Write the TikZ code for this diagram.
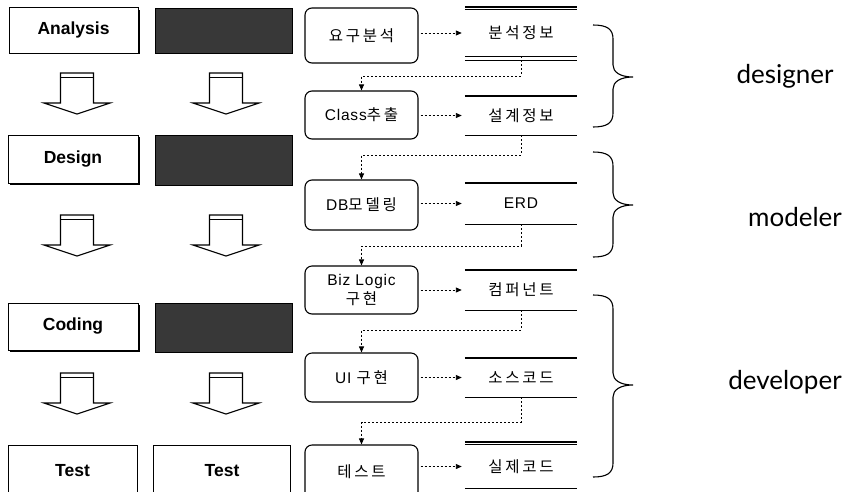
\documentclass[tikz,border=0pt]{standalone}
\usepackage{fontspec}
\setmainfont{Liberation Sans}
\newfontfamily\kofont[LetterSpace=18]{Noto Sans CJK KR}
\newfontfamily\latfont[LetterSpace=5]{Liberation Sans}
\newfontfamily\rolefont{Lato}
\newcommand{\ko}[1]{{\kofont\fontsize{15.5}{18}\selectfont #1}}
\usetikzlibrary{arrows.meta,calc}
\tikzset{
  phasebox/.style={draw=black, line width=0.9pt, fill=white, minimum width=129pt, minimum height=46pt, inner sep=0pt, font=\fontsize{17.5}{19}\selectfont\bfseries},
  darkbox/.style={draw=black, line width=0.9pt, fill=black!78, minimum width=137pt, minimum height=46pt, inner sep=0pt},
  procbox/.style={draw=black, line width=1.1pt, rounded corners=7pt, fill=white, minimum width=113pt, inner sep=0pt, align=center, font=\latfont\fontsize{15.5}{19}\selectfont},
  store/.style={minimum width=112pt, inner sep=0pt, font=\latfont\fontsize{15.5}{17}\selectfont},
  storeline/.style={line width=1.4pt},
  thinline/.style={line width=0.7pt},
  flow/.style={line width=0.9pt, dash pattern=on 2pt off 2pt, -{Triangle[length=6pt,width=5pt]}},
  blockarrow/.style={draw=black, line width=1.1pt, fill=white, line join=miter},
  bracestyle/.style={line width=1.1pt},
  rolelabel/.style={font=\rolefont\fontsize{26}{28}\selectfont, inner sep=0pt}
}
\newcommand{\shadowbox}[4]{% x1,y1,x2,y2
  \fill[black] ({#1+1.5},{#2+1.5}) rectangle ({#3+1.5},{#4+1.5});}
\newcommand{\downarrowshape}[2]{% cx, top
  \draw[blockarrow] ({#1-16.5},#2) -- ({#1+16.5},#2) -- ({#1+16.5},{#2+30}) -- ({#1+33},{#2+30}) -- (#1,{#2+41}) -- ({#1-33},{#2+30}) -- ({#1-16.5},{#2+30}) -- cycle;
  \draw[line width=0.9pt] ({#1-16.5},{#2+4}) -- ({#1+16.5},{#2+4});}
\newcommand{\rolebrace}[3]{% top, tip, bottom
  \draw[bracestyle] (593,#1) .. controls (607,#1) and (613,{#1+4}) .. (613,{#1+14}) -- (613,{#2-12}) .. controls (613,{#2-5}) and (620,#2) .. (633,#2) .. controls (620,#2) and (613,{#2+5}) .. (613,{#2+12}) -- (613,{#3-14}) .. controls (613,{#3-4}) and (607,#3) .. (593,#3);}
\begin{document}
\begin{tikzpicture}[x=1pt,y=-1pt]
\useasboundingbox (0,0) rectangle (845,491);
\clip (0,0) rectangle (845,491);

% ---- left column: phases ----
\shadowbox{9}{8}{138}{52}
\node[phasebox] (an) at (73.5,30) {Analysis};
\node[darkbox, minimum height=45pt] (d1) at (223.5,30.5) {};
\downarrowshape{77}{73}
\downarrowshape{226}{73}

\shadowbox{8}{135}{138}{183}
\node[phasebox, minimum width=130pt, minimum height=48pt] (de) at (73,159) {Design};
\node[darkbox, minimum height=50pt] (d2) at (223.5,160) {};
\downarrowshape{77}{215}
\downarrowshape{226}{215}

\shadowbox{8}{303}{138}{350}
\node[phasebox, minimum width=130pt, minimum height=47pt] (co) at (73,326.5) {Coding};
\node[darkbox, minimum height=49pt] (d3) at (223.5,327.5) {};
\downarrowshape{77}{373}
\downarrowshape{226}{373}

\node[phasebox, minimum height=52pt] (t1) at (72.5,471) {Test};
\node[phasebox, minimum width=137pt, minimum height=52pt] (t2) at (222,471) {Test};

% ---- process boxes ----
\node[procbox, minimum height=55pt] (p1) at (361.5,35.5) {\ko{요구분석}};
\node[procbox, minimum height=48pt] (p2) at (361.5,115) {Class\ko{추출}};
\node[procbox, minimum height=50pt] (p3) at (361.5,205) {DB\ko{모델링}};
\node[procbox, minimum height=48pt] (p4) at (361.5,290) {Biz Logic\\\ko{구현}};
\node[procbox, minimum height=49pt] (p5) at (361.5,377.5) {UI \ko{구현}};
\node[procbox, minimum height=54pt] (p6) at (361.5,472) {\ko{테스트}};

% ---- data stores ----
\node[store, minimum height=46pt] (s1) at (521,33) {\ko{분석정보}};
\node[store, minimum height=39pt] (s2) at (521,115.5) {\ko{설계정보}};
\node[store, minimum height=41pt] (s3) at (521,203.5) {ERD};
\node[store, minimum height=40pt] (s4) at (521,290) {\ko{컴퍼넌트}};
\node[store, minimum height=39pt] (s5) at (521,377.5) {\ko{소스코드}};
\node[store, minimum height=43pt] (s6) at (521,466.5) {\ko{실제코드}};

\draw[thinline] (s1.north west) -- (s1.north east);
\draw[storeline] ([yshift=3pt]s1.north west) -- ([yshift=3pt]s1.north east);
\draw[thinline] ([yshift=-4pt]s1.south west) -- ([yshift=-4pt]s1.south east);
\draw[storeline] (s1.south west) -- (s1.south east);
\foreach \s in {s2,s3,s4,s5}{
  \draw[storeline] (\s.north west) -- (\s.north east);
  \draw[storeline] (\s.south west) -- (\s.south east);
}
\draw[thinline] (s6.north west) -- (s6.north east);
\draw[storeline] ([yshift=3pt]s6.north west) -- ([yshift=3pt]s6.north east);
\draw[storeline] (s6.south west) -- (s6.south east);

% ---- horizontal flows ----
\draw[flow] ([xshift=2pt]p1.east |- s1.center) -- ([xshift=-3pt]s1.west);
\draw[flow] ([xshift=2pt]p2.east |- s2.center) -- ([xshift=-3pt]s2.west);
\draw[flow] ([xshift=2pt]p3.east |- s3.center) -- ([xshift=-3pt]s3.west);
\draw[flow] ([xshift=2pt]p4.east |- s4.center) -- ([xshift=-3pt]s4.west);
\draw[flow] ([xshift=2pt]p5.east |- s5.center) -- ([xshift=-3pt]s5.west);
\draw[flow] ([xshift=2pt]p6.east |- s6.center) -- ([xshift=-3pt]s6.west);

% ---- vertical flows ----
\coordinate (h1) at (361.5,76);
\coordinate (h2) at (361.5,155);
\coordinate (h3) at (361.5,246);
\coordinate (h4) at (361.5,330);
\coordinate (h5) at (361.5,422);
\draw[flow] (s1.south) |- (h1) -- (p2.north);
\draw[flow] (s2.south) |- (h2) -- (p3.north);
\draw[flow] (s3.south) |- (h3) -- (p4.north);
\draw[flow] (s4.south) |- (h4) -- (p5.north);
\draw[flow] (s5.south) |- (h5) -- (p6.north);

% ---- braces and roles ----
\rolebrace{25}{77}{127}
\rolebrace{152}{205}{257}
\rolebrace{295}{385}{477}
\node[rolelabel] (r1) at (785,76) {designer};
\node[rolelabel] (r2) at (795,217) {modeler};
\node[rolelabel] (r3) at (785,382) {developer};
\end{tikzpicture}
\end{document}
